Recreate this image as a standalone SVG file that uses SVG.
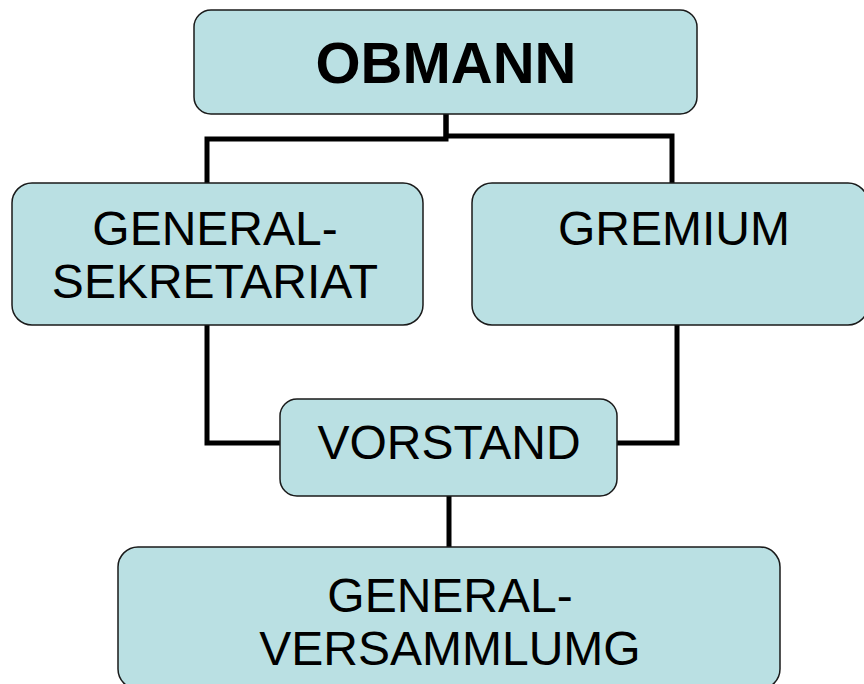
<svg xmlns="http://www.w3.org/2000/svg" width="864" height="684" viewBox="0 0 864 684">
<style>
.box{fill:#BAE0E3;stroke:#1a1a1a;stroke-width:1.5}
.lbl{font-family:"Liberation Sans",Arial,sans-serif;font-size:48px;fill:#000;text-anchor:middle}
.bold{font-weight:bold;font-size:58px}
.conn{fill:none;stroke:#000;stroke-width:5}
</style>
<rect width="864" height="684" fill="#fff"/>
<g id="connectors">
<path class="conn" d="M446 114 V139 H207 V183"/>
<path class="conn" d="M446 114 V136 H672 V183"/>
<path class="conn" d="M207 325 V443 H280"/>
<path class="conn" d="M677 325 V443 H617"/>
<path class="conn" d="M449 496 V547"/>
</g>
<g id="obmann">
<rect class="box" x="194" y="10" width="503" height="104" rx="17"/>
<text class="lbl bold" x="446" y="83">OBMANN</text>
</g>
<g id="generalsekretariat">
<rect class="box" x="12" y="183" width="411" height="142" rx="20"/>
<text class="lbl" x="215" y="245">GENERAL-</text>
<text class="lbl" x="215" y="298">SEKRETARIAT</text>
</g>
<g id="gremium">
<rect class="box" x="472" y="183" width="396" height="142" rx="20"/>
<text class="lbl" x="674" y="245">GREMIUM</text>
</g>
<g id="vorstand">
<rect class="box" x="280" y="399" width="337" height="97" rx="17"/>
<text class="lbl" x="449" y="459">VORSTAND</text>
</g>
<g id="generalversammlung">
<rect class="box" x="118" y="547" width="662" height="142" rx="20"/>
<text class="lbl" x="450" y="612">GENERAL-</text>
<text class="lbl" x="450" y="665">VERSAMMLUMG</text>
</g>
</svg>
